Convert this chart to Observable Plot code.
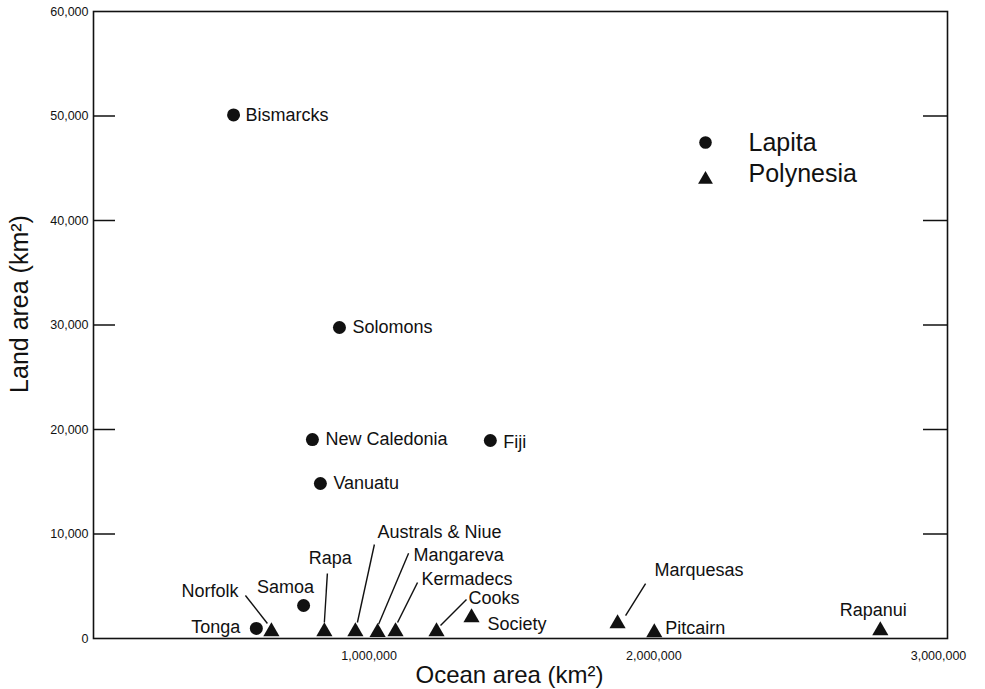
<!DOCTYPE html>
<html><head><meta charset="utf-8">
<script src="https://cdn.jsdelivr.net/npm/d3@7"></script>
<script src="https://cdn.jsdelivr.net/npm/@observablehq/plot@0.6"></script>
<style>body{margin:0;background:#fff} #chart svg{display:block}</style>
</head><body><div id="chart"></div>
<script>
// ---- data ----
const lapitaNames = ["Bismarcks", "Solomons", "New Caledonia", "Fiji", "Vanuatu", "Samoa", "Tonga"];
const lapitaOcean = [492000, 864000, 769000, 1394000, 797000, 738000, 572000];
const lapitaLand  = [50100, 29760, 19040, 18950, 14830, 3160, 960];

const polyNames = ["Norfolk", "Rapa", "Australs & Niue", "Mangareva", "Kermadecs", "Cooks", "Society", "Marquesas", "Pitcairn", "Rapanui"];
const polyOcean = [625000, 811000, 920000, 998000, 1061000, 1205000, 1328000, 1841000, 1970000, 2764000];
const polyLand  = [670, 670, 670, 600, 670, 670, 2010, 1435, 575, 765];

const xTicks = [1000000, 2000000, 3000000];
const yTicks = [0, 10000, 20000, 30000, 40000, 50000, 60000];
const legendLabels = ["Lapita", "Polynesia"];

// ---- layout ----
const width = 985, height = 689;
const mL = 93, mR = 38, mT = 11, mB = 51;
const plotW = width - mL - mR, plotH = height - mT - mB;
const xDomain = [0, 3000000], yDomain = [0, 60000];
const kx = (xDomain[1] - xDomain[0]) / plotW, ky = (yDomain[1] - yDomain[0]) / plotH;

// label placement: text offset (px) and optional leader line offsets (px, from the point)
const labelLayout = {
  "Bismarcks":      {anchor: "start", dx: 12, dy: 0},
  "Solomons":       {anchor: "start", dx: 13, dy: 0},
  "New Caledonia":  {anchor: "start", dx: 13, dy: 0},
  "Fiji":           {anchor: "start", dx: 13, dy: 2},
  "Vanuatu":        {anchor: "start", dx: 13, dy: 0},
  "Samoa":          {anchor: "middle", dx: -18, dy: -18},
  "Tonga":          {anchor: "end", dx: -16, dy: -1},
  "Norfolk":        {anchor: "end", dx: -33, dy: -40, leader: [-26, -36, -4, -8]},
  "Rapa":           {anchor: "middle", dx: 6, dy: -73, leader: [3, -58, 0, -9]},
  "Australs & Niue":{anchor: "start", dx: 22, dy: -99, leader: [19, -87, 2, -9]},
  "Mangareva":      {anchor: "start", dx: 36, dy: -77, leader: [31, -79, 1, -8]},
  "Kermadecs":      {anchor: "start", dx: 26, dy: -52, leader: [22, -49, 2, -9]},
  "Cooks":          {anchor: "start", dx: 32, dy: -33, leader: [30, -32, 4, -6]},
  "Society":        {anchor: "start", dx: 16, dy: 7},
  "Marquesas":      {anchor: "start", dx: 37, dy: -53, leader: [28, -40, 8, -8]},
  "Pitcairn":       {anchor: "start", dx: 11, dy: -4},
  "Rapanui":        {anchor: "middle", dx: -7, dy: -20}
};

const lapita = lapitaNames.map((name, i) => ({name, ocean: lapitaOcean[i], land: lapitaLand[i]}));
const poly = polyNames.map((name, i) => ({name, ocean: polyOcean[i], land: polyLand[i]}));
const all = lapita.concat(poly);

const leaders = all.filter(d => labelLayout[d.name].leader).map(d => {
  const [sx, sy, ex, ey] = labelLayout[d.name].leader;
  return {x1: d.ocean + sx * kx, y1: d.land - sy * ky, x2: d.ocean + ex * kx, y2: d.land - ey * ky};
});

const ink = "#111";
const labelMarks = all.map(d => {
  const L = labelLayout[d.name];
  return Plot.text([d], {x: "ocean", y: "land", text: "name", textAnchor: L.anchor, dx: L.dx, dy: L.dy, fontSize: 18, fill: ink});
});

const chart = Plot.plot({
  width, height,
  marginLeft: mL, marginRight: mR, marginTop: mT, marginBottom: mB,
  x: {domain: xDomain},
  y: {domain: yDomain},
  style: {fontFamily: "'Liberation Sans', Arial, sans-serif", color: ink, background: "#fff"},
  marks: [
    Plot.frame({stroke: ink, strokeWidth: 1.6}),
    Plot.tickY(yTicks.slice(1, -1), {y: d => d, insetRight: plotW - 22, stroke: ink, strokeWidth: 1.5}),
    Plot.tickY(yTicks.slice(1, -1), {y: d => d, insetLeft: plotW - 24, stroke: ink, strokeWidth: 1.5}),
    Plot.axisY(yTicks, {tickSize: 0, tickPadding: 5, tickFormat: d3.format(","), fontSize: 12.5, label: null, fill: ink}),
    Plot.axisX(xTicks, {tickSize: 0, tickPadding: 13, tickFormat: d3.format(","), fontSize: 12.5, dx: -9, label: null, fill: ink}),
    Plot.text(["Ocean area (km²)"], {frameAnchor: "bottom", lineAnchor: "middle", textAnchor: "middle", dx: -11, dy: 37, fontSize: 24, fill: ink}),
    Plot.text(["Land area (km²)"], {frameAnchor: "left", lineAnchor: "middle", textAnchor: "middle", rotate: -90, dx: -74, dy: -21, fontSize: 25, fill: ink}),
    Plot.link(leaders, {x1: "x1", y1: "y1", x2: "x2", y2: "y2", stroke: ink, strokeWidth: 1.4}),
    Plot.dot(lapita, {x: "ocean", y: "land", symbol: "circle", r: 6.5, fill: ink}),
    Plot.dot(poly, {x: "ocean", y: "land", symbol: "triangle", r: 6, fill: ink}),
    ...labelMarks,
    // legend
    Plot.dot([legendLabels[0]], {frameAnchor: "top-left", dx: 612, dy: 131, symbol: "circle", r: 6.3, fill: ink}),
    Plot.dot([legendLabels[1]], {frameAnchor: "top-left", dx: 612, dy: 168, symbol: "triangle", r: 5.5, fill: ink}),
    Plot.text([legendLabels[0]], {frameAnchor: "top-left", lineAnchor: "middle", dx: 655, dy: 131, text: d => d, textAnchor: "start", fontSize: 25, fill: ink}),
    Plot.text([legendLabels[1]], {frameAnchor: "top-left", lineAnchor: "middle", dx: 655, dy: 162, text: d => d, textAnchor: "start", fontSize: 25, fill: ink})
  ]
});
document.getElementById("chart").append(chart);
</script></body></html>
